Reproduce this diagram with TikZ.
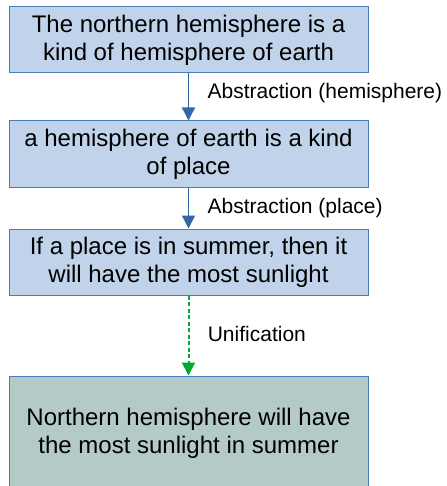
\documentclass[tikz,border=0pt]{standalone}
\usepackage{fontspec}
\setmainfont{Liberation Sans}
\usetikzlibrary{arrows.meta}

\begin{document}
\begin{tikzpicture}[x=1pt, y=-1pt]
    % Define colours
    \definecolor{boxFill}{HTML}{C0D3EA}
    \definecolor{boxBorder}{HTML}{4A7EBB}
    \definecolor{goalFill}{HTML}{B3CAC7}
    \definecolor{stepColour}{HTML}{3465A4}
    \definecolor{unifyColour}{HTML}{00A933}

    % Define styles
    \tikzset{
        fact/.style={draw=boxBorder, fill=boxFill, line width=1pt, minimum width=359pt,
            minimum height=66pt, inner sep=0pt, align=center,
            font=\fontsize{24}{28}\selectfont},
        goal/.style={fact, fill=goalFill, minimum height=114pt},
        stepArrow/.style={draw=stepColour, line width=1.5pt, -{Triangle[width=13pt, length=13pt]}},
        unifyArrow/.style={draw=unifyColour, line width=2pt, dash pattern=on 4pt off 2.5pt,
            -{Triangle[width=13pt, length=13pt]}},
        stepLabel/.style={right, xshift=15pt, font=\fontsize{21}{24}\selectfont}
    }

    % Fix the picture size
    \useasboundingbox (0,0) rectangle (446,486);

    % Draw the boxes
    \node[fact] (north) at (188.5,40) {The northern hemisphere is a\\kind of hemisphere of earth};
    \node[fact] (hemi) at (188.5,154) {a hemisphere of earth is a kind\\of place};
    \node[fact] (rule) at (188.5,262) {If a place is in summer, then it\\will have the most sunlight};
    \node[goal] (result) at (188.5,433) {Northern hemisphere will have\\the most sunlight in summer};

    % Draw the arrows
    \draw[stepArrow] (north) -- node[stepLabel, yshift=4pt, text=black] {Abstraction (hemisphere)} (hemi);
    \draw[stepArrow] (hemi) -- node[stepLabel, text=black] {Abstraction (place)} (rule);
    \draw[unifyArrow] (rule) -- node[stepLabel, yshift=2pt, text=black] {Unification} (result);

\end{tikzpicture}
\end{document}
